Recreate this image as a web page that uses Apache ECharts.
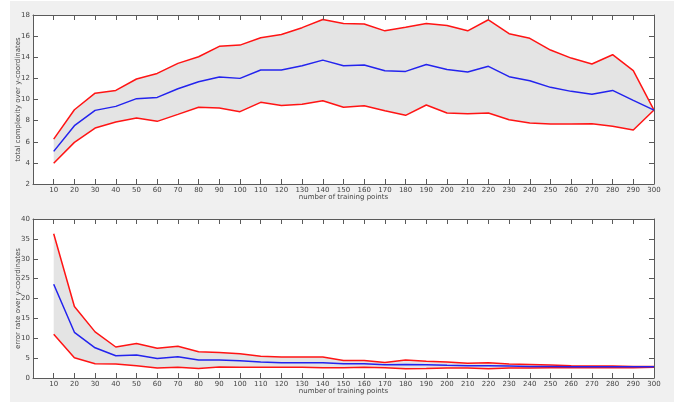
<!DOCTYPE html>
<html>
<head>
<meta charset="utf-8">
<script src="https://cdn.jsdelivr.net/npm/echarts@6/dist/echarts.min.js"></script>
<style>
html,body{margin:0;padding:0;background:#ffffff;}
#chart{width:681px;height:402px;}
</style>
</head>
<body>
<div id="chart"></div>
<script>
const trainingPoints = [10,20,30,40,50,60,70,80,90,100,110,120,130,140,150,160,170,180,190,200,210,220,230,240,250,260,270,280,290,300];

const complexityUpper = [6.25,9.03,10.6,10.86,11.94,12.47,13.42,14.05,15.03,15.15,15.85,16.16,16.8,17.58,17.2,17.14,16.5,16.83,17.2,17.0,16.5,17.55,16.23,15.79,14.68,13.92,13.36,14.24,12.73,9.0];
const complexityMean  = [5.09,7.52,8.97,9.35,10.08,10.2,11.02,11.68,12.13,12.0,12.79,12.79,13.2,13.73,13.2,13.26,12.73,12.66,13.32,12.85,12.6,13.14,12.16,11.78,11.15,10.77,10.49,10.86,9.92,9.0];
const complexityLower = [3.96,5.94,7.3,7.87,8.25,7.93,8.59,9.26,9.19,8.85,9.73,9.44,9.54,9.89,9.26,9.41,8.94,8.5,9.48,8.72,8.66,8.72,8.09,7.77,7.68,7.68,7.71,7.46,7.11,9.0];

const errorUpper = [36.3,18.0,11.6,7.8,8.7,7.5,8.0,6.6,6.4,6.1,5.5,5.3,5.3,5.3,4.4,4.4,3.9,4.5,4.2,4.0,3.7,3.85,3.5,3.4,3.3,3.1,3.0,3.0,2.9,2.9];
const errorMean  = [23.6,11.5,7.6,5.6,5.8,4.9,5.35,4.5,4.5,4.35,4.0,3.85,3.85,3.85,3.6,3.6,3.35,3.4,3.35,3.2,3.1,3.1,3.0,2.9,2.9,2.85,2.85,2.85,2.85,2.85];
const errorLower = [11.0,5.1,3.6,3.5,3.1,2.5,2.7,2.4,2.75,2.7,2.7,2.7,2.7,2.6,2.6,2.7,2.6,2.35,2.4,2.5,2.5,2.35,2.5,2.5,2.6,2.6,2.6,2.6,2.6,2.7];

const xAxisTitle = 'number of training points';
const topYTitle = 'total complexity over y-coordinates';
const bottomYTitle = 'error rate over y-coordinates';

const pairs = (vals) => trainingPoints.map((x, i) => [x, vals[i]]);
const triples = (lo, hi) => trainingPoints.map((x, i) => [x, lo[i], hi[i]]);

const axisColor = '#5a5a5a';
const labelColor = '#444';
const fontFamily = 'DejaVu Sans';
const RED = '#ff1414';
const BLUE = '#2323ee';
const BAND = '#e4e4e4';

function xAxes(gridIndex) {
  return [
    {
      type: 'value', gridIndex, position: 'bottom', min: 0, max: 300, interval: 10,
      name: xAxisTitle, nameLocation: 'middle', nameGap: 10, nameMoveOverlap: false,
      nameTextStyle: {fontFamily, fontSize: 7, color: labelColor},
      axisLine: {show: true, onZero: false, lineStyle: {color: axisColor, width: 1}},
      axisTick: {show: true, inside: true, length: 5, lineStyle: {color: axisColor}},
      axisLabel: {fontFamily, fontSize: 7, color: labelColor, margin: 3,
        formatter: v => (v === 0 ? '' : String(v))},
      splitLine: {show: false}, z: 10
    },
    {
      type: 'value', gridIndex, position: 'top', min: 0, max: 300, interval: 10,
      axisLine: {show: true, onZero: false, lineStyle: {color: axisColor, width: 1}},
      axisTick: {show: true, inside: true, length: 5, lineStyle: {color: axisColor}},
      axisLabel: {show: false},
      splitLine: {show: false}, z: 10
    }
  ];
}

function yAxes(gridIndex, min, max, interval, title) {
  return [
    {
      type: 'value', gridIndex, position: 'left', min, max, interval,
      name: title, nameLocation: 'middle', nameGap: 11.5, nameMoveOverlap: false,
      nameTextStyle: {fontFamily, fontSize: 7, color: labelColor},
      axisLine: {show: true, onZero: false, lineStyle: {color: axisColor, width: 1}},
      axisTick: {show: true, inside: true, length: 5, lineStyle: {color: axisColor}},
      axisLabel: {fontFamily, fontSize: 7, color: labelColor, margin: 3},
      splitLine: {show: false}, z: 10
    },
    {
      type: 'value', gridIndex, position: 'right', min, max, interval,
      axisLine: {show: true, onZero: false, lineStyle: {color: axisColor, width: 1}},
      axisTick: {show: true, inside: true, length: 5, lineStyle: {color: axisColor}},
      axisLabel: {show: false},
      splitLine: {show: false}, z: 10
    }
  ];
}

function bandSeries(xIdx, yIdx, upper, mean, lower) {
  const common = {type: 'line', xAxisIndex: xIdx, yAxisIndex: yIdx, symbol: 'none', silent: true, animation: false};
  const band = {
    type: 'custom', xAxisIndex: xIdx, yAxisIndex: yIdx, silent: true, animation: false, z: 1,
    data: triples(lower, upper),
    renderItem: function (params, api) {
      if (params.dataIndex !== 0) return null;
      const top = [], bottom = [];
      for (let i = 0; i < trainingPoints.length; i++) {
        top.push(api.coord([trainingPoints[i], upper[i]]));
        bottom.unshift(api.coord([trainingPoints[i], lower[i]]));
      }
      return {
        type: 'polygon',
        shape: {points: top.concat(bottom)},
        style: {fill: BAND, stroke: null}
      };
    }
  };
  return [
    band,
    Object.assign({}, common, {data: pairs(upper), lineStyle: {color: RED, width: 1.5}, z: 3}),
    Object.assign({}, common, {data: pairs(lower), lineStyle: {color: RED, width: 1.5}, z: 3}),
    Object.assign({}, common, {data: pairs(mean), lineStyle: {color: BLUE, width: 1.5}, z: 4})
  ];
}

const chart = echarts.init(document.getElementById('chart'), null, {renderer: 'canvas'});
chart.setOption({
  backgroundColor: '#ffffff',
  animation: false,
  graphic: [
    {type: 'rect', shape: {x: 10, y: 1, width: 664, height: 401}, style: {fill: '#f0f0f0'}, z: -10, silent: true},
    {type: 'rect', shape: {x: 33, y: 15, width: 621, height: 169}, style: {fill: '#ffffff'}, z: -9, silent: true},
    {type: 'rect', shape: {x: 33, y: 219, width: 621, height: 159}, style: {fill: '#ffffff'}, z: -9, silent: true}
  ],
  grid: [
    {left: 33, right: 27, top: 15, height: 169},
    {left: 33, right: 27, top: 219, height: 159}
  ],
  xAxis: [].concat(xAxes(0), xAxes(1)),
  yAxis: [].concat(yAxes(0, 2, 18, 2, topYTitle), yAxes(1, 0, 40, 5, bottomYTitle)),
  series: [].concat(
    bandSeries(0, 0, complexityUpper, complexityMean, complexityLower),
    bandSeries(2, 2, errorUpper, errorMean, errorLower)
  )
});
</script>
</body>
</html>
